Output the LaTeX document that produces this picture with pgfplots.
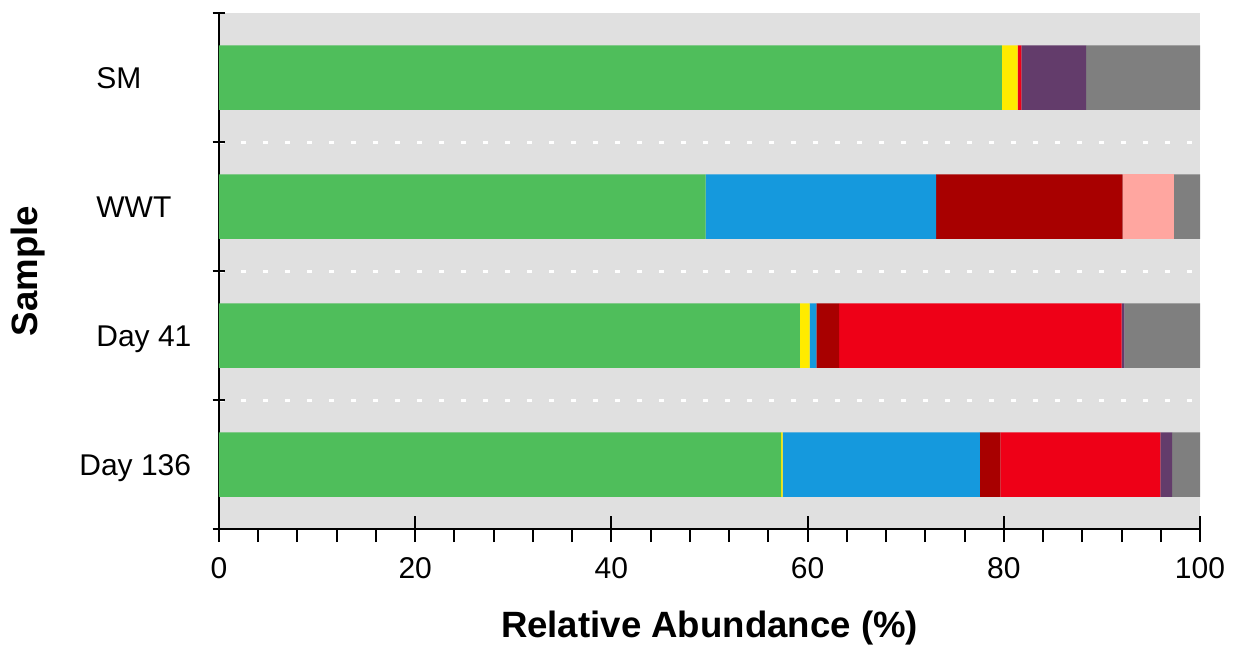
\documentclass[border=0pt]{standalone}
\usepackage{fontspec}
\setmainfont{Liberation Sans}
\usepackage{pgfplots}
\usepackage{pgfplotstable}
\pgfplotsset{compat=1.18}

\definecolor{cgreen}{HTML}{4FBE5B}
\definecolor{cyellow}{HTML}{FFEB00}
\definecolor{cblue}{HTML}{1599DD}
\definecolor{cdarkred}{HTML}{A80000}
\definecolor{cred}{HTML}{EE0017}
\definecolor{cpink}{HTML}{FFA6A0}
\definecolor{cpurple}{HTML}{633C6B}
\definecolor{cgrey}{HTML}{7F7F7F}
\definecolor{cbg}{HTML}{E0E0E0}

% y: 3 = SM, 2 = WWT, 1 = Day 41, 0 = Day 136
\pgfplotstableread{
y green yellow blue darkred red  pink purple grey
3 79.8  1.6    0.0  0.0     0.4  0.0  6.6    11.6
2 49.6  0.0    23.5 19.0    0.0  5.2  0.0    2.7
1 59.2  1.0    0.7  2.3     28.8 0.0  0.3    7.7
0 57.3  0.15   20.1 2.1     16.3 0.0  1.2    2.85
}\abund

\begin{document}
\begin{tikzpicture}
\begin{axis}[
    scale only axis,
    width=490.5pt, height=258pt,
    xbar stacked,
    bar width=0.5,
    xmin=0, xmax=100,
    ymin=-0.5, ymax=3.5,
    axis background/.style={fill=cbg},
    axis x line*=bottom,
    axis y line*=left,
    axis line style={-, line width=1pt, black},
    tick style={line width=1pt, black},
    tick align=center,
    major tick length=13pt,
    minor tick length=6.5pt,
    xtick={0,20,...,100},
    minor x tick num=4,
    every minor x tick/.append style={yshift=-3.25pt},
    ytick={0,1,2,3},
    yticklabels={{\hspace*{-8.5pt}Day 136}, Day 41, WWT, SM},
    every major y tick/.append style={draw=none},
    minor ytick={0.5,1.5,2.5},
    yminorgrids,
    minor grid style={white, line width=1.5pt, dash pattern=on 2.5pt off 8.5pt},
    extra y ticks={-0.5,3.5},
    extra y tick labels={},
    extra y tick style={major tick length=6.5pt, every major y tick/.append style={draw=black}},
    /pgf/number format/assume math mode=true,
    xticklabel style={font=\fontsize{15}{18}\selectfont, anchor=base, yshift=-18pt},
    yticklabel style={font=\fontsize{15}{18}\selectfont, anchor=base west, inner sep=0pt, xshift=-55pt, yshift=-5.4pt},
    xlabel={Relative Abundance (\%)},
    ylabel={Sample},
    xlabel style={font=\fontsize{18.3}{22}\selectfont\bfseries, at={(axis description cs:0.5,0)}, anchor=center, yshift=-49.5pt},
    ylabel style={font=\fontsize{18.3}{22}\selectfont\bfseries, at={(axis description cs:0,0.5)}, anchor=center, yshift=95.5pt},
    every axis plot/.append style={draw=none},
]
\addplot[fill=cgreen] table[x=green, y=y] {\abund};
\addplot[fill=cyellow] table[x=yellow, y=y] {\abund};
\addplot[fill=cblue] table[x=blue, y=y] {\abund};
\addplot[fill=cdarkred] table[x=darkred, y=y] {\abund};
\addplot[fill=cred] table[x=red, y=y] {\abund};
\addplot[fill=cpink] table[x=pink, y=y] {\abund};
\addplot[fill=cpurple] table[x=purple, y=y] {\abund};
\addplot[fill=cgrey] table[x=grey, y=y] {\abund};
\end{axis}
\pgfresetboundingbox
\path[use as bounding box] (current axis.south west) ++(-109.5pt,-59.5pt)
    rectangle ([shift={(17.5pt,6.5pt)}]current axis.north east);
\end{tikzpicture}
\end{document}
